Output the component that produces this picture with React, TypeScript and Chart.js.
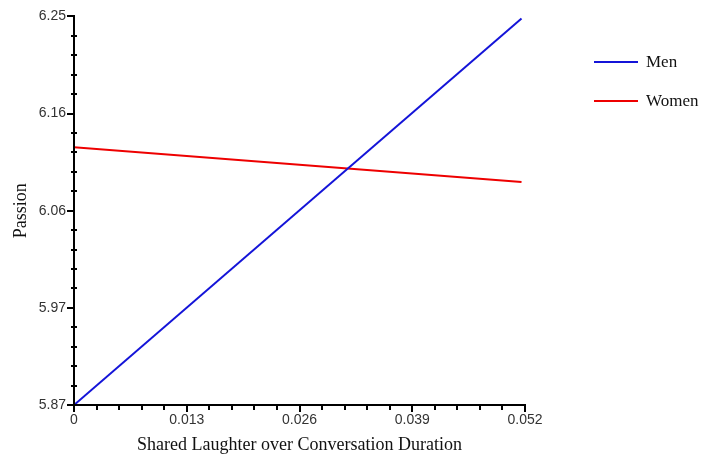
import React, { useEffect, useRef } from "react";
import { Chart, registerables } from "chart.js";

Chart.register(...registerables);

// Data
const xStart = 0;
const xEnd = 0.0516;
const menValues = [5.87, 6.248];
const womenValues = [6.122, 6.088];
const seriesLabels = ["Men", "Women"];
const seriesColors = ["#1414d8", "#ee0000"];

// Axis ticks
const yMajorTicks = [5.87, 5.965, 6.06, 6.155, 6.25];
const yTickLabels = ["5.87", "5.97", "6.06", "6.16", "6.25"];
const xMajorTicks = [0, 0.013, 0.026, 0.039, 0.052];
const xTickLabels = ["0", "0.013", "0.026", "0.039", "0.052"];
const minorPerInterval = 5;

function minorTicks(majors: number[]): number[] {
  const out: number[] = [];
  for (let i = 0; i < majors.length - 1; i++) {
    const step = (majors[i + 1] - majors[i]) / minorPerInterval;
    for (let k = 1; k < minorPerInterval; k++) out.push(majors[i] + step * k);
  }
  return out;
}

const axisPlugin = {
  id: "axisTicks",
  afterDraw(chart: any) {
    const ctx = chart.ctx;
    const xs = chart.scales.x;
    const ys = chart.scales.y;
    const { left, bottom } = chart.chartArea;
    ctx.save();
    ctx.strokeStyle = "#000";
    ctx.lineWidth = 2;
    yMajorTicks.forEach((v) => {
      const p = Math.round(ys.getPixelForValue(v));
      ctx.beginPath();
      ctx.moveTo(left - 7, p);
      ctx.lineTo(left + 1, p);
      ctx.stroke();
    });
    minorTicks(yMajorTicks).forEach((v) => {
      const p = Math.round(ys.getPixelForValue(v));
      ctx.beginPath();
      ctx.moveTo(left - 3, p);
      ctx.lineTo(left + 3, p);
      ctx.stroke();
    });
    xMajorTicks.forEach((v) => {
      const p = Math.round(xs.getPixelForValue(v));
      ctx.beginPath();
      ctx.moveTo(p, bottom - 1);
      ctx.lineTo(p, bottom + 7);
      ctx.stroke();
    });
    minorTicks(xMajorTicks).forEach((v) => {
      const p = Math.round(xs.getPixelForValue(v));
      ctx.beginPath();
      ctx.moveTo(p, bottom - 1);
      ctx.lineTo(p, bottom + 5);
      ctx.stroke();
    });
    ctx.beginPath();
    ctx.moveTo(left, chart.chartArea.top);
    ctx.lineTo(left, bottom);
    ctx.lineTo(chart.chartArea.right + 1, bottom);
    ctx.stroke();

    // legend
    const lx = chart.chartArea.right + 69;
    const ly0 = 62;
    const gap = 39;
    ctx.font = '17px "Liberation Serif", "Times New Roman", serif';
    ctx.textBaseline = "middle";
    ctx.textAlign = "left";
    chart.data.datasets.forEach((ds: any, i: number) => {
      const y = ly0 + i * gap;
      ctx.strokeStyle = ds.borderColor;
      ctx.lineWidth = 2;
      ctx.beginPath();
      ctx.moveTo(lx, y);
      ctx.lineTo(lx + 44, y);
      ctx.stroke();
      ctx.fillStyle = "#111";
      ctx.fillText(ds.label, lx + 52, y + 1);
    });
    ctx.restore();
  },
};

export default function App() {
  const ref = useRef<HTMLCanvasElement>(null);
  useEffect(() => {
    document.body.style.margin = "0";
    const chart = new Chart(ref.current!, {
      type: "line",
      data: {
        datasets: [
          {
            label: seriesLabels[0],
            data: [
              { x: xStart, y: menValues[0] },
              { x: xEnd, y: menValues[1] },
            ],
            borderColor: seriesColors[0],
            borderWidth: 2,
            pointRadius: 0,
            fill: false,
          },
          {
            label: seriesLabels[1],
            data: [
              { x: xStart, y: womenValues[0] },
              { x: xEnd, y: womenValues[1] },
            ],
            borderColor: seriesColors[1],
            borderWidth: 2,
            pointRadius: 0,
            fill: false,
          },
        ],
      },
      options: {
        animation: false,
        responsive: false,
        maintainAspectRatio: false,
        layout: { padding: { top: 15, right: 189, left: 0, bottom: 0 } },
        plugins: {
          legend: { display: false },
          tooltip: { enabled: false },
        },
        scales: {
          x: {
            type: "linear",
            min: 0,
            max: 0.052,
            afterBuildTicks: (s: any) => {
              s.ticks = xMajorTicks.map((v) => ({ value: v }));
            },
            afterFit: (s: any) => {
              s.height = 61;
            },
            grid: { display: false, drawTicks: false, tickLength: 0 },
            border: { display: false },
            ticks: {
              padding: 7,
              maxRotation: 0,
              autoSkip: false,
              color: "#333",
              font: { family: '"Liberation Sans", Arial, sans-serif', size: 14 },
              callback: (_v: any, i: number) => xTickLabels[i],
            },
            title: {
              display: true,
              text: "Shared Laughter over Conversation Duration",
              color: "#111",
              font: { family: '"Liberation Serif", "Times New Roman", serif', size: 18 },
              padding: { top: 0, bottom: 10 },
            },
          },
          y: {
            type: "linear",
            min: 5.87,
            max: 6.25,
            afterBuildTicks: (s: any) => {
              s.ticks = yMajorTicks.map((v) => ({ value: v }));
            },
            afterFit: (s: any) => {
              s.width = 74;
            },
            grid: { display: false, drawTicks: false, tickLength: 0 },
            border: { display: false },
            ticks: {
              padding: 8,
              autoSkip: false,
              color: "#333",
              font: { family: '"Liberation Sans", Arial, sans-serif', size: 14 },
              callback: (_v: any, i: number) => yTickLabels[i],
            },
            title: {
              display: true,
              text: "Passion",
              color: "#111",
              font: { family: '"Liberation Serif", "Times New Roman", serif', size: 18 },
              padding: { top: 10, bottom: 0 },
            },
          },
        },
      },
      plugins: [axisPlugin],
    });
    return () => chart.destroy();
  }, []);
  return (
    <div style={{ width: 714, height: 466 }}>
      <canvas ref={ref} width={714} height={466} style={{ display: "block" }} />
    </div>
  );
}
